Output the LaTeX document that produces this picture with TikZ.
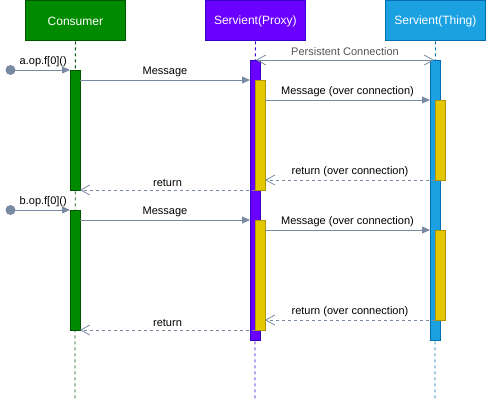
\documentclass[tikz,border=0pt]{standalone}
\usepackage{fontspec}
\setmainfont{Liberation Sans}
\usetikzlibrary{arrows.meta}
\definecolor{edgec}{HTML}{788AA3}
\definecolor{gfill}{HTML}{008A00}
\definecolor{gline}{HTML}{005700}
\definecolor{pfill}{HTML}{6A00FF}
\definecolor{pline}{HTML}{3700CC}
\definecolor{bfill}{HTML}{1BA1E2}
\definecolor{bline}{HTML}{006EAF}
\definecolor{yfill}{HTML}{E3C800}
\definecolor{yline}{HTML}{B09500}
\definecolor{pctext}{HTML}{555555}
\tikzset{
  head/.style={draw=#1, rectangle, minimum width=100pt, minimum height=40pt, inner sep=0pt, anchor=north west, text=white, font=\fontsize{12}{14}\selectfont, line width=0.8pt},
  bar/.style={draw=#1, rectangle, minimum width=10pt, inner sep=0pt, anchor=north west, line width=0.8pt},
  life/.style={draw=#1, dash pattern=on 3pt off 3pt, line width=0.8pt},
  msg/.style={draw=edgec, line width=0.8pt, -{Triangle[length=8pt,width=7pt]}},
  ret/.style={draw=edgec, line width=0.8pt, dash pattern=on 3pt off 3pt, -{Straight Barb[length=9pt,width=10pt,line width=0.8pt]}},
  conn/.style={draw=edgec, line width=0.8pt, {Straight Barb[length=9pt,width=10pt,line width=0.8pt]}-{Straight Barb[length=9pt,width=10pt,line width=0.8pt]}},
  lbl/.style={font=\fontsize{11}{13}\selectfont, inner sep=0pt, text=black},
}
\begin{document}
\begin{tikzpicture}[x=1pt,y=-1pt]
\useasboundingbox (0,0) rectangle (486,401);
% heads
\node[head=gline, fill=gfill] (cons) at (25,0.5) {Consumer};
\node[head=pline, fill=pfill] (prox) at (205,0.5) {Servient(Proxy)};
\node[head=bline, fill=bfill] (thing) at (385,0.5) {Servient(Thing)};
% lifeline ends
\coordinate (consend) at (75,401);
\coordinate (proxend) at (255,401);
\coordinate (thingend) at (435,401);
\draw[life=gline] (cons.south) -- (consend);
\draw[life=pline] (prox.south) -- (proxend);
\draw[life=bline] (thing.south) -- (thingend);
% activation bars
\node[bar=gline, fill=gfill, minimum height=120pt] (c1) at (70,70) {};
\node[bar=gline, fill=gfill, minimum height=120pt] (c2) at (70,210) {};
\node[bar=pline, fill=pfill, minimum height=280pt] (p0) at (250,60) {};
\node[bar=bline, fill=bfill, minimum height=280pt] (t0) at (430,60) {};
\node[bar=yline, fill=yfill, minimum height=110pt] (p1) at (255,80) {};
\node[bar=yline, fill=yfill, minimum height=110pt] (p2) at (255,220) {};
\node[bar=yline, fill=yfill, minimum height=80pt] (t1) at (435,100) {};
\node[bar=yline, fill=yfill, minimum height=90pt] (t2) at (435,230) {};
% start dots
\node[circle, fill=edgec, minimum size=10pt, inner sep=0pt] (sa) at (10.5,70) {};
\node[circle, fill=edgec, minimum size=10pt, inner sep=0pt] (sb) at (10.5,210) {};
% coordinates
\coordinate (pcL) at (256,60);
\coordinate (pcR) at (434,60);
\coordinate (a1) at (70,70);
\coordinate (m1s) at (80,80);   \coordinate (m1e) at (250,80);
\coordinate (o1s) at (265,100); \coordinate (o1e) at (430,100);
\coordinate (r1s) at (435,180); \coordinate (r1e) at (265,180);
\coordinate (q1s) at (255,190); \coordinate (q1e) at (80,190);
\coordinate (b1) at (70,210);
\coordinate (m2s) at (80,220);  \coordinate (m2e) at (250,220);
\coordinate (o2s) at (265,230); \coordinate (o2e) at (430,230);
\coordinate (r2s) at (435,320); \coordinate (r2e) at (265,320);
\coordinate (q2s) at (255,330); \coordinate (q2e) at (80,330);
% connectors
\draw[conn] (pcL) -- (pcR) node[lbl, midway, above=4pt, text=pctext] {Persistent Connection};
\draw[msg] (sa.center) -- (a1) node[lbl, midway, above=3pt, xshift=3pt] {a.op.f[0]()};
\draw[msg] (m1s) -- (m1e) node[lbl, midway, above=3pt] {Message};
\draw[msg] (o1s) -- (o1e) node[lbl, midway, above=3pt] {Message (over connection)};
\draw[ret] (r1s) -- (r1e) node[lbl, midway, above=3pt] {return (over connection)};
\draw[ret] (q1s) -- (q1e) node[lbl, midway, above=3pt] {return};
\draw[msg] (sb.center) -- (b1) node[lbl, midway, above=3pt, xshift=3pt] {b.op.f[0]()};
\draw[msg] (m2s) -- (m2e) node[lbl, midway, above=3pt] {Message};
\draw[msg] (o2s) -- (o2e) node[lbl, midway, above=3pt] {Message (over connection)};
\draw[ret] (r2s) -- (r2e) node[lbl, midway, above=3pt] {return (over connection)};
\draw[ret] (q2s) -- (q2e) node[lbl, midway, above=3pt] {return};
\end{tikzpicture}
\end{document}
